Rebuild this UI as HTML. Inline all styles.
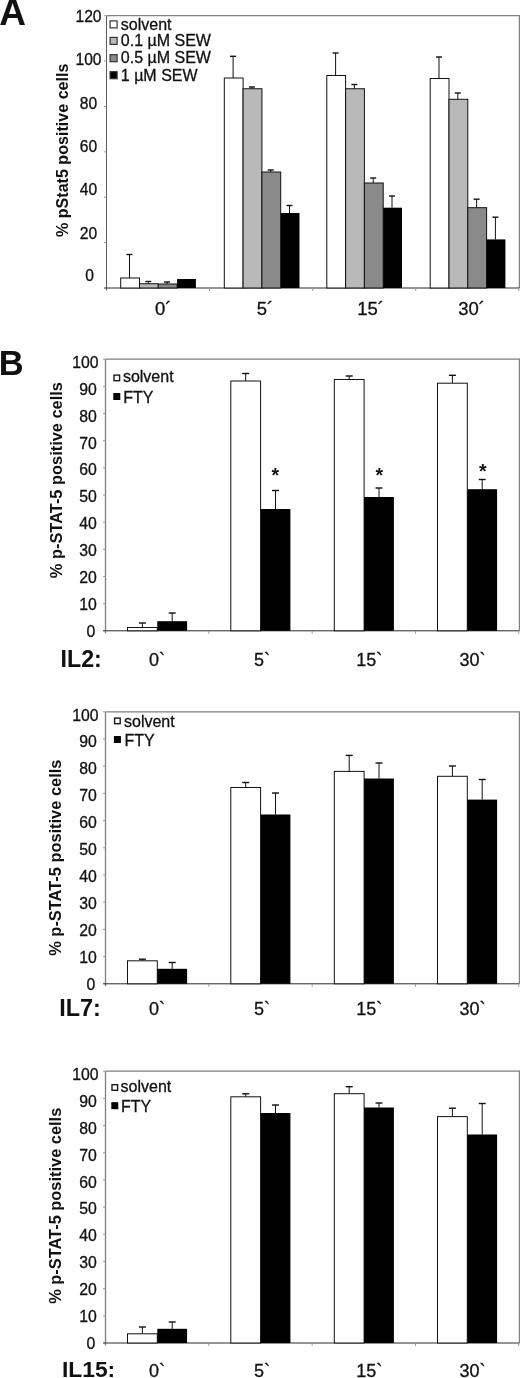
<!DOCTYPE html>
<html><head><meta charset="utf-8"><title>Figure</title>
<style>html,body{margin:0;padding:0;background:#fff}svg{display:block}text{font-family:"Liberation Sans", Arial, Helvetica, sans-serif}</style>
</head><body>
<svg width="520" height="1378" viewBox="0 0 520 1378" font-family='"Liberation Sans", Arial, Helvetica, sans-serif' fill="#111">
<polyline points="106.5,15.7 519.4,15.7 519.4,288" fill="none" stroke="#808080" stroke-width="1.2"/>
<line x1="106.5" y1="15.7" x2="106.5" y2="290.5" stroke="#5c5c5c" stroke-width="1"/>
<line x1="104.0" y1="288" x2="519.4" y2="288" stroke="#2a2a2a" stroke-width="1"/>
<line x1="209.575" y1="288" x2="209.575" y2="291.0" stroke="#9a9a9a" stroke-width="1"/>
<line x1="312.65" y1="288" x2="312.65" y2="291.0" stroke="#9a9a9a" stroke-width="1"/>
<line x1="415.72499999999997" y1="288" x2="415.72499999999997" y2="291.0" stroke="#9a9a9a" stroke-width="1"/>
<line x1="518.8" y1="288" x2="518.8" y2="291.0" stroke="#9a9a9a" stroke-width="1"/>
<line x1="104.0" y1="242.61666666666667" x2="106.5" y2="242.61666666666667" stroke="#9a9a9a" stroke-width="1"/>
<line x1="104.0" y1="197.23333333333335" x2="106.5" y2="197.23333333333335" stroke="#9a9a9a" stroke-width="1"/>
<line x1="104.0" y1="151.85" x2="106.5" y2="151.85" stroke="#9a9a9a" stroke-width="1"/>
<line x1="104.0" y1="106.46666666666667" x2="106.5" y2="106.46666666666667" stroke="#9a9a9a" stroke-width="1"/>
<line x1="104.0" y1="61.08333333333334" x2="106.5" y2="61.08333333333334" stroke="#9a9a9a" stroke-width="1"/>
<line x1="104.0" y1="15.699999999999989" x2="106.5" y2="15.699999999999989" stroke="#9a9a9a" stroke-width="1"/>
<line x1="129.5" y1="278" x2="129.5" y2="254.5" stroke="#111" stroke-width="1"/>
<line x1="126.5" y1="254.5" x2="132.5" y2="254.5" stroke="#111" stroke-width="1.4"/>
<rect x="120.70" y="278.00" width="18.80" height="10.00" fill="#ffffff" stroke="#111" stroke-width="1"/>
<line x1="148.3" y1="283.75" x2="148.3" y2="281.5" stroke="#111" stroke-width="1"/>
<line x1="145.3" y1="281.5" x2="151.3" y2="281.5" stroke="#111" stroke-width="1.4"/>
<rect x="139.50" y="283.75" width="18.80" height="4.25" fill="#b9b9b9" stroke="#111" stroke-width="1"/>
<line x1="167.10000000000002" y1="284" x2="167.10000000000002" y2="282" stroke="#111" stroke-width="1"/>
<line x1="164.10000000000002" y1="282" x2="170.10000000000002" y2="282" stroke="#111" stroke-width="1.4"/>
<rect x="158.30" y="284.00" width="18.80" height="4.00" fill="#8a8a8a" stroke="#111" stroke-width="1"/>
<rect x="177.10" y="279.00" width="18.80" height="9.00" fill="#000000" stroke="none" stroke-width="1"/>
<line x1="233.10000000000002" y1="78" x2="233.10000000000002" y2="56.3" stroke="#111" stroke-width="1"/>
<line x1="230.10000000000002" y1="56.3" x2="236.10000000000002" y2="56.3" stroke="#111" stroke-width="1.4"/>
<rect x="224.30" y="78.00" width="18.80" height="210.00" fill="#ffffff" stroke="#111" stroke-width="1"/>
<line x1="251.90000000000003" y1="88.75" x2="251.90000000000003" y2="87" stroke="#111" stroke-width="1"/>
<line x1="248.90000000000003" y1="87" x2="254.90000000000003" y2="87" stroke="#111" stroke-width="1.4"/>
<rect x="243.10" y="88.75" width="18.80" height="199.25" fill="#b9b9b9" stroke="#111" stroke-width="1"/>
<line x1="270.7" y1="172" x2="270.7" y2="170" stroke="#111" stroke-width="1"/>
<line x1="267.7" y1="170" x2="273.7" y2="170" stroke="#111" stroke-width="1.4"/>
<rect x="261.90" y="172.00" width="18.80" height="116.00" fill="#8a8a8a" stroke="#111" stroke-width="1"/>
<line x1="289.5" y1="213" x2="289.5" y2="205.5" stroke="#111" stroke-width="1"/>
<line x1="286.5" y1="205.5" x2="292.5" y2="205.5" stroke="#111" stroke-width="1.4"/>
<rect x="280.70" y="213.00" width="18.80" height="75.00" fill="#000000" stroke="none" stroke-width="1"/>
<line x1="335.59999999999997" y1="75.5" x2="335.59999999999997" y2="53" stroke="#111" stroke-width="1"/>
<line x1="332.59999999999997" y1="53" x2="338.59999999999997" y2="53" stroke="#111" stroke-width="1.4"/>
<rect x="326.80" y="75.50" width="18.80" height="212.50" fill="#ffffff" stroke="#111" stroke-width="1"/>
<line x1="354.4" y1="88.75" x2="354.4" y2="84.5" stroke="#111" stroke-width="1"/>
<line x1="351.4" y1="84.5" x2="357.4" y2="84.5" stroke="#111" stroke-width="1.4"/>
<rect x="345.60" y="88.75" width="18.80" height="199.25" fill="#b9b9b9" stroke="#111" stroke-width="1"/>
<line x1="373.2" y1="183" x2="373.2" y2="178" stroke="#111" stroke-width="1"/>
<line x1="370.2" y1="178" x2="376.2" y2="178" stroke="#111" stroke-width="1.4"/>
<rect x="364.40" y="183.00" width="18.80" height="105.00" fill="#8a8a8a" stroke="#111" stroke-width="1"/>
<line x1="392.0" y1="207.7" x2="392.0" y2="196" stroke="#111" stroke-width="1"/>
<line x1="389.0" y1="196" x2="395.0" y2="196" stroke="#111" stroke-width="1.4"/>
<rect x="383.20" y="207.70" width="18.80" height="80.30" fill="#000000" stroke="none" stroke-width="1"/>
<line x1="438.99999999999994" y1="78.5" x2="438.99999999999994" y2="57" stroke="#111" stroke-width="1"/>
<line x1="435.99999999999994" y1="57" x2="441.99999999999994" y2="57" stroke="#111" stroke-width="1.4"/>
<rect x="430.20" y="78.50" width="18.80" height="209.50" fill="#ffffff" stroke="#111" stroke-width="1"/>
<line x1="457.79999999999995" y1="99.3" x2="457.79999999999995" y2="93" stroke="#111" stroke-width="1"/>
<line x1="454.79999999999995" y1="93" x2="460.79999999999995" y2="93" stroke="#111" stroke-width="1.4"/>
<rect x="449.00" y="99.30" width="18.80" height="188.70" fill="#b9b9b9" stroke="#111" stroke-width="1"/>
<line x1="476.59999999999997" y1="207.7" x2="476.59999999999997" y2="199.2" stroke="#111" stroke-width="1"/>
<line x1="473.59999999999997" y1="199.2" x2="479.59999999999997" y2="199.2" stroke="#111" stroke-width="1.4"/>
<rect x="467.80" y="207.70" width="18.80" height="80.30" fill="#8a8a8a" stroke="#111" stroke-width="1"/>
<line x1="495.4" y1="239.4" x2="495.4" y2="217.2" stroke="#111" stroke-width="1"/>
<line x1="492.4" y1="217.2" x2="498.4" y2="217.2" stroke="#111" stroke-width="1.4"/>
<rect x="486.60" y="239.40" width="18.80" height="48.60" fill="#000000" stroke="none" stroke-width="1"/>
<text x="89.6" y="281.3" font-size="15.6" text-anchor="middle" font-weight="normal"  stroke="#111" stroke-width="0.3">0</text>
<text x="88.5" y="238.8" font-size="15.6" text-anchor="middle" font-weight="normal"  stroke="#111" stroke-width="0.3">20</text>
<text x="88.5" y="195.3" font-size="15.6" text-anchor="middle" font-weight="normal"  stroke="#111" stroke-width="0.3">40</text>
<text x="88.5" y="152.4" font-size="15.6" text-anchor="middle" font-weight="normal"  stroke="#111" stroke-width="0.3">60</text>
<text x="88.5" y="108.9" font-size="15.6" text-anchor="middle" font-weight="normal"  stroke="#111" stroke-width="0.3">80</text>
<text x="88.5" y="65.2" font-size="15.6" text-anchor="middle" font-weight="normal"  stroke="#111" stroke-width="0.3">100</text>
<text x="88.5" y="22.2" font-size="15.6" text-anchor="middle" font-weight="normal"  stroke="#111" stroke-width="0.3">120</text>
<text x="163.2" y="314.5" font-size="18.5" text-anchor="middle" font-weight="normal"  stroke="#111" stroke-width="0.3">0´</text>
<text x="265" y="314.5" font-size="18.5" text-anchor="middle" font-weight="normal"  stroke="#111" stroke-width="0.3">5´</text>
<text x="370.5" y="314.5" font-size="18.5" text-anchor="middle" font-weight="normal"  stroke="#111" stroke-width="0.3">15´</text>
<text x="471.5" y="314.5" font-size="18.5" text-anchor="middle" font-weight="normal"  stroke="#111" stroke-width="0.3">30´</text>
<rect x="110.10" y="20.90" width="7.00" height="7.00" fill="#fff" stroke="#333" stroke-width="1.2"/>
<text x="120.8" y="29.7" font-size="16" text-anchor="start" font-weight="normal"  stroke="#111" stroke-width="0.3">solvent</text>
<rect x="110.10" y="37.40" width="7.00" height="7.00" fill="#b9b9b9" stroke="#333" stroke-width="1.2"/>
<text x="120.8" y="45.9" font-size="16" text-anchor="start" font-weight="normal"  stroke="#111" stroke-width="0.3">0.1 µM SEW</text>
<rect x="110.10" y="54.70" width="7.00" height="7.00" fill="#8a8a8a" stroke="#333" stroke-width="1.2"/>
<text x="120.8" y="63.4" font-size="16" text-anchor="start" font-weight="normal"  stroke="#111" stroke-width="0.3">0.5 µM SEW</text>
<rect x="110.10" y="71.70" width="7.00" height="7.00" fill="#000" stroke="#333" stroke-width="1.2"/>
<text x="120.8" y="81.3" font-size="16" text-anchor="start" font-weight="normal"  stroke="#111" stroke-width="0.3">1 µM SEW</text>
<text transform="translate(68.3,150.3) rotate(-90)" font-size="16.1" font-weight="bold" text-anchor="middle">% pStat5 positive cells</text>
<text x="-0.8" y="24.8" font-size="37" text-anchor="start" font-weight="bold" >A</text>
<text x="-1.35" y="374.6" font-size="34.5" text-anchor="start" font-weight="bold" >B</text>
<polyline points="105.5,359.2 519.4,359.2 519.4,630.8" fill="none" stroke="#808080" stroke-width="1.2"/>
<line x1="105.5" y1="359.2" x2="105.5" y2="633.3" stroke="#808080" stroke-width="1.3"/>
<line x1="103.0" y1="630.8" x2="519.4" y2="630.8" stroke="#2a2a2a" stroke-width="1"/>
<line x1="208.825" y1="630.8" x2="208.825" y2="633.8" stroke="#9a9a9a" stroke-width="1"/>
<line x1="312.15" y1="630.8" x2="312.15" y2="633.8" stroke="#9a9a9a" stroke-width="1"/>
<line x1="415.47499999999997" y1="630.8" x2="415.47499999999997" y2="633.8" stroke="#9a9a9a" stroke-width="1"/>
<line x1="518.8" y1="630.8" x2="518.8" y2="633.8" stroke="#9a9a9a" stroke-width="1"/>
<line x1="103.0" y1="603.64" x2="105.5" y2="603.64" stroke="#9a9a9a" stroke-width="1"/>
<line x1="103.0" y1="576.48" x2="105.5" y2="576.48" stroke="#9a9a9a" stroke-width="1"/>
<line x1="103.0" y1="549.3199999999999" x2="105.5" y2="549.3199999999999" stroke="#9a9a9a" stroke-width="1"/>
<line x1="103.0" y1="522.16" x2="105.5" y2="522.16" stroke="#9a9a9a" stroke-width="1"/>
<line x1="103.0" y1="495.0" x2="105.5" y2="495.0" stroke="#9a9a9a" stroke-width="1"/>
<line x1="103.0" y1="467.84" x2="105.5" y2="467.84" stroke="#9a9a9a" stroke-width="1"/>
<line x1="103.0" y1="440.67999999999995" x2="105.5" y2="440.67999999999995" stroke="#9a9a9a" stroke-width="1"/>
<line x1="103.0" y1="413.52" x2="105.5" y2="413.52" stroke="#9a9a9a" stroke-width="1"/>
<line x1="103.0" y1="386.36" x2="105.5" y2="386.36" stroke="#9a9a9a" stroke-width="1"/>
<line x1="103.0" y1="359.2" x2="105.5" y2="359.2" stroke="#9a9a9a" stroke-width="1"/>
<line x1="142.4" y1="627.5" x2="142.4" y2="623" stroke="#111" stroke-width="1"/>
<line x1="138.9" y1="623" x2="145.9" y2="623" stroke="#111" stroke-width="1.4"/>
<rect x="127.50" y="627.50" width="29.80" height="3.30" fill="#fff" stroke="#111" stroke-width="1"/>
<line x1="172.20000000000002" y1="621.2" x2="172.20000000000002" y2="613" stroke="#111" stroke-width="1"/>
<line x1="168.70000000000002" y1="613" x2="175.70000000000002" y2="613" stroke="#111" stroke-width="1.4"/>
<rect x="157.30" y="621.20" width="29.80" height="9.60" fill="#000" stroke="none" stroke-width="1"/>
<line x1="245.70000000000002" y1="381" x2="245.70000000000002" y2="373.5" stroke="#111" stroke-width="1"/>
<line x1="242.20000000000002" y1="373.5" x2="249.20000000000002" y2="373.5" stroke="#111" stroke-width="1.4"/>
<rect x="230.80" y="381.00" width="29.80" height="249.80" fill="#fff" stroke="#111" stroke-width="1"/>
<line x1="275.5" y1="509" x2="275.5" y2="490.5" stroke="#111" stroke-width="1"/>
<line x1="272.0" y1="490.5" x2="279.0" y2="490.5" stroke="#111" stroke-width="1.4"/>
<rect x="260.60" y="509.00" width="29.80" height="121.80" fill="#000" stroke="none" stroke-width="1"/>
<line x1="349.2" y1="379.5" x2="349.2" y2="376" stroke="#111" stroke-width="1"/>
<line x1="345.7" y1="376" x2="352.7" y2="376" stroke="#111" stroke-width="1.4"/>
<rect x="334.30" y="379.50" width="29.80" height="251.30" fill="#fff" stroke="#111" stroke-width="1"/>
<line x1="379.0" y1="497" x2="379.0" y2="488" stroke="#111" stroke-width="1"/>
<line x1="375.5" y1="488" x2="382.5" y2="488" stroke="#111" stroke-width="1.4"/>
<rect x="364.10" y="497.00" width="29.80" height="133.80" fill="#000" stroke="none" stroke-width="1"/>
<line x1="452.4" y1="383.2" x2="452.4" y2="375.3" stroke="#111" stroke-width="1"/>
<line x1="448.9" y1="375.3" x2="455.9" y2="375.3" stroke="#111" stroke-width="1.4"/>
<rect x="437.50" y="383.20" width="29.80" height="247.60" fill="#fff" stroke="#111" stroke-width="1"/>
<line x1="482.2" y1="489.2" x2="482.2" y2="479.5" stroke="#111" stroke-width="1"/>
<line x1="478.7" y1="479.5" x2="485.7" y2="479.5" stroke="#111" stroke-width="1.4"/>
<rect x="467.30" y="489.20" width="29.80" height="141.60" fill="#000" stroke="none" stroke-width="1"/>
<text x="95.2" y="636.70" font-size="15.8" text-anchor="end" font-weight="normal"  stroke="#111" stroke-width="0.3">0</text>
<text x="96.8" y="609.82" font-size="15.8" text-anchor="end" font-weight="normal"  stroke="#111" stroke-width="0.3">10</text>
<text x="96.8" y="582.94" font-size="15.8" text-anchor="end" font-weight="normal"  stroke="#111" stroke-width="0.3">20</text>
<text x="96.8" y="556.06" font-size="15.8" text-anchor="end" font-weight="normal"  stroke="#111" stroke-width="0.3">30</text>
<text x="96.8" y="529.18" font-size="15.8" text-anchor="end" font-weight="normal"  stroke="#111" stroke-width="0.3">40</text>
<text x="96.8" y="502.30" font-size="15.8" text-anchor="end" font-weight="normal"  stroke="#111" stroke-width="0.3">50</text>
<text x="96.8" y="475.42" font-size="15.8" text-anchor="end" font-weight="normal"  stroke="#111" stroke-width="0.3">60</text>
<text x="96.8" y="448.54" font-size="15.8" text-anchor="end" font-weight="normal"  stroke="#111" stroke-width="0.3">70</text>
<text x="96.8" y="421.66" font-size="15.8" text-anchor="end" font-weight="normal"  stroke="#111" stroke-width="0.3">80</text>
<text x="96.8" y="394.78" font-size="15.8" text-anchor="end" font-weight="normal"  stroke="#111" stroke-width="0.3">90</text>
<text x="98.5" y="367.90" font-size="15.8" text-anchor="end" font-weight="normal"  stroke="#111" stroke-width="0.3">100</text>
<text x="157" y="666" font-size="18" text-anchor="middle" font-weight="normal"  stroke="#111" stroke-width="0.3">0`</text>
<text x="262" y="666" font-size="18" text-anchor="middle" font-weight="normal"  stroke="#111" stroke-width="0.3">5`</text>
<text x="369.3" y="666" font-size="18" text-anchor="middle" font-weight="normal"  stroke="#111" stroke-width="0.3">15`</text>
<text x="472.4" y="666" font-size="18" text-anchor="middle" font-weight="normal"  stroke="#111" stroke-width="0.3">30`</text>
<rect x="114.00" y="375.10" width="5.60" height="5.60" fill="#fff" stroke="#1a1a1a" stroke-width="1.4"/>
<text x="122.9" y="382.4" font-size="16" text-anchor="start" font-weight="normal"  stroke="#111" stroke-width="0.3">solvent</text>
<rect x="114.00" y="393.70" width="5.60" height="5.60" fill="#000" stroke="#000" stroke-width="1.4"/>
<text x="123.30000000000001" y="402.6" font-size="16" text-anchor="start" font-weight="normal"  stroke="#111" stroke-width="0.3">FTY</text>
<text x="275.2" y="482.4" font-size="19.5" text-anchor="middle" font-weight="bold" >*</text>
<text x="379.2" y="482.0" font-size="19.5" text-anchor="middle" font-weight="bold" >*</text>
<text x="482.7" y="477.8" font-size="19.5" text-anchor="middle" font-weight="bold" >*</text>
<text transform="translate(61.9,480.1) rotate(-90)" font-size="16.4" font-weight="bold" text-anchor="middle">% p-STAT-5 positive cells</text>
<text x="60.6" y="666.8" font-size="23.2" text-anchor="start" font-weight="bold" >IL2:</text>
<polyline points="105.5,711.8 519.4,711.8 519.4,983.8" fill="none" stroke="#808080" stroke-width="1.2"/>
<line x1="105.5" y1="711.8" x2="105.5" y2="986.3" stroke="#808080" stroke-width="1.3"/>
<line x1="103.0" y1="983.8" x2="519.4" y2="983.8" stroke="#2a2a2a" stroke-width="1"/>
<line x1="208.825" y1="983.8" x2="208.825" y2="986.8" stroke="#9a9a9a" stroke-width="1"/>
<line x1="312.15" y1="983.8" x2="312.15" y2="986.8" stroke="#9a9a9a" stroke-width="1"/>
<line x1="415.47499999999997" y1="983.8" x2="415.47499999999997" y2="986.8" stroke="#9a9a9a" stroke-width="1"/>
<line x1="518.8" y1="983.8" x2="518.8" y2="986.8" stroke="#9a9a9a" stroke-width="1"/>
<line x1="103.0" y1="956.5999999999999" x2="105.5" y2="956.5999999999999" stroke="#9a9a9a" stroke-width="1"/>
<line x1="103.0" y1="929.4" x2="105.5" y2="929.4" stroke="#9a9a9a" stroke-width="1"/>
<line x1="103.0" y1="902.1999999999999" x2="105.5" y2="902.1999999999999" stroke="#9a9a9a" stroke-width="1"/>
<line x1="103.0" y1="875.0" x2="105.5" y2="875.0" stroke="#9a9a9a" stroke-width="1"/>
<line x1="103.0" y1="847.8" x2="105.5" y2="847.8" stroke="#9a9a9a" stroke-width="1"/>
<line x1="103.0" y1="820.5999999999999" x2="105.5" y2="820.5999999999999" stroke="#9a9a9a" stroke-width="1"/>
<line x1="103.0" y1="793.4" x2="105.5" y2="793.4" stroke="#9a9a9a" stroke-width="1"/>
<line x1="103.0" y1="766.1999999999999" x2="105.5" y2="766.1999999999999" stroke="#9a9a9a" stroke-width="1"/>
<line x1="103.0" y1="739.0" x2="105.5" y2="739.0" stroke="#9a9a9a" stroke-width="1"/>
<line x1="103.0" y1="711.8" x2="105.5" y2="711.8" stroke="#9a9a9a" stroke-width="1"/>
<line x1="142.4" y1="960.8" x2="142.4" y2="959.2" stroke="#111" stroke-width="1"/>
<line x1="138.9" y1="959.2" x2="145.9" y2="959.2" stroke="#111" stroke-width="1.4"/>
<rect x="127.50" y="960.80" width="29.80" height="23.00" fill="#fff" stroke="#111" stroke-width="1"/>
<line x1="172.20000000000002" y1="968.8" x2="172.20000000000002" y2="962.5" stroke="#111" stroke-width="1"/>
<line x1="168.70000000000002" y1="962.5" x2="175.70000000000002" y2="962.5" stroke="#111" stroke-width="1.4"/>
<rect x="157.30" y="968.80" width="29.80" height="15.00" fill="#000" stroke="none" stroke-width="1"/>
<line x1="245.70000000000002" y1="787.5" x2="245.70000000000002" y2="782.5" stroke="#111" stroke-width="1"/>
<line x1="242.20000000000002" y1="782.5" x2="249.20000000000002" y2="782.5" stroke="#111" stroke-width="1.4"/>
<rect x="230.80" y="787.50" width="29.80" height="196.30" fill="#fff" stroke="#111" stroke-width="1"/>
<line x1="275.5" y1="814.5" x2="275.5" y2="793" stroke="#111" stroke-width="1"/>
<line x1="272.0" y1="793" x2="279.0" y2="793" stroke="#111" stroke-width="1.4"/>
<rect x="260.60" y="814.50" width="29.80" height="169.30" fill="#000" stroke="none" stroke-width="1"/>
<line x1="349.2" y1="771.4" x2="349.2" y2="755.4" stroke="#111" stroke-width="1"/>
<line x1="345.7" y1="755.4" x2="352.7" y2="755.4" stroke="#111" stroke-width="1.4"/>
<rect x="334.30" y="771.40" width="29.80" height="212.40" fill="#fff" stroke="#111" stroke-width="1"/>
<line x1="379.0" y1="778.5" x2="379.0" y2="763" stroke="#111" stroke-width="1"/>
<line x1="375.5" y1="763" x2="382.5" y2="763" stroke="#111" stroke-width="1.4"/>
<rect x="364.10" y="778.50" width="29.80" height="205.30" fill="#000" stroke="none" stroke-width="1"/>
<line x1="452.4" y1="776.3" x2="452.4" y2="766" stroke="#111" stroke-width="1"/>
<line x1="448.9" y1="766" x2="455.9" y2="766" stroke="#111" stroke-width="1.4"/>
<rect x="437.50" y="776.30" width="29.80" height="207.50" fill="#fff" stroke="#111" stroke-width="1"/>
<line x1="482.2" y1="799.6" x2="482.2" y2="779.5" stroke="#111" stroke-width="1"/>
<line x1="478.7" y1="779.5" x2="485.7" y2="779.5" stroke="#111" stroke-width="1.4"/>
<rect x="467.30" y="799.60" width="29.80" height="184.20" fill="#000" stroke="none" stroke-width="1"/>
<text x="95.2" y="989.70" font-size="15.8" text-anchor="end" font-weight="normal"  stroke="#111" stroke-width="0.3">0</text>
<text x="96.8" y="962.78" font-size="15.8" text-anchor="end" font-weight="normal"  stroke="#111" stroke-width="0.3">10</text>
<text x="96.8" y="935.86" font-size="15.8" text-anchor="end" font-weight="normal"  stroke="#111" stroke-width="0.3">20</text>
<text x="96.8" y="908.94" font-size="15.8" text-anchor="end" font-weight="normal"  stroke="#111" stroke-width="0.3">30</text>
<text x="96.8" y="882.02" font-size="15.8" text-anchor="end" font-weight="normal"  stroke="#111" stroke-width="0.3">40</text>
<text x="96.8" y="855.10" font-size="15.8" text-anchor="end" font-weight="normal"  stroke="#111" stroke-width="0.3">50</text>
<text x="96.8" y="828.18" font-size="15.8" text-anchor="end" font-weight="normal"  stroke="#111" stroke-width="0.3">60</text>
<text x="96.8" y="801.26" font-size="15.8" text-anchor="end" font-weight="normal"  stroke="#111" stroke-width="0.3">70</text>
<text x="96.8" y="774.34" font-size="15.8" text-anchor="end" font-weight="normal"  stroke="#111" stroke-width="0.3">80</text>
<text x="96.8" y="747.42" font-size="15.8" text-anchor="end" font-weight="normal"  stroke="#111" stroke-width="0.3">90</text>
<text x="98.5" y="720.50" font-size="15.8" text-anchor="end" font-weight="normal"  stroke="#111" stroke-width="0.3">100</text>
<text x="157" y="1015" font-size="18" text-anchor="middle" font-weight="normal"  stroke="#111" stroke-width="0.3">0`</text>
<text x="262" y="1015" font-size="18" text-anchor="middle" font-weight="normal"  stroke="#111" stroke-width="0.3">5`</text>
<text x="369.3" y="1015" font-size="18" text-anchor="middle" font-weight="normal"  stroke="#111" stroke-width="0.3">15`</text>
<text x="472.4" y="1015" font-size="18" text-anchor="middle" font-weight="normal"  stroke="#111" stroke-width="0.3">30`</text>
<rect x="114.60" y="718.10" width="5.60" height="5.60" fill="#fff" stroke="#1a1a1a" stroke-width="1.4"/>
<text x="124" y="727.2" font-size="16" text-anchor="start" font-weight="normal"  stroke="#111" stroke-width="0.3">solvent</text>
<rect x="114.60" y="736.70" width="5.60" height="5.60" fill="#000" stroke="#000" stroke-width="1.4"/>
<text x="124.4" y="745.5" font-size="16" text-anchor="start" font-weight="normal"  stroke="#111" stroke-width="0.3">FTY</text>
<text transform="translate(61,857.7) rotate(-90)" font-size="16.4" font-weight="bold" text-anchor="middle">% p-STAT-5 positive cells</text>
<text x="59.3" y="1015.5" font-size="23.4" text-anchor="start" font-weight="bold" >IL7:</text>
<polyline points="105.5,1071.2 519.4,1071.2 519.4,1343" fill="none" stroke="#808080" stroke-width="1.2"/>
<line x1="105.5" y1="1071.2" x2="105.5" y2="1345.5" stroke="#808080" stroke-width="1.3"/>
<line x1="103.0" y1="1343" x2="519.4" y2="1343" stroke="#2a2a2a" stroke-width="1"/>
<line x1="208.825" y1="1343" x2="208.825" y2="1346.0" stroke="#9a9a9a" stroke-width="1"/>
<line x1="312.15" y1="1343" x2="312.15" y2="1346.0" stroke="#9a9a9a" stroke-width="1"/>
<line x1="415.47499999999997" y1="1343" x2="415.47499999999997" y2="1346.0" stroke="#9a9a9a" stroke-width="1"/>
<line x1="518.8" y1="1343" x2="518.8" y2="1346.0" stroke="#9a9a9a" stroke-width="1"/>
<line x1="103.0" y1="1315.82" x2="105.5" y2="1315.82" stroke="#9a9a9a" stroke-width="1"/>
<line x1="103.0" y1="1288.64" x2="105.5" y2="1288.64" stroke="#9a9a9a" stroke-width="1"/>
<line x1="103.0" y1="1261.46" x2="105.5" y2="1261.46" stroke="#9a9a9a" stroke-width="1"/>
<line x1="103.0" y1="1234.28" x2="105.5" y2="1234.28" stroke="#9a9a9a" stroke-width="1"/>
<line x1="103.0" y1="1207.1" x2="105.5" y2="1207.1" stroke="#9a9a9a" stroke-width="1"/>
<line x1="103.0" y1="1179.92" x2="105.5" y2="1179.92" stroke="#9a9a9a" stroke-width="1"/>
<line x1="103.0" y1="1152.74" x2="105.5" y2="1152.74" stroke="#9a9a9a" stroke-width="1"/>
<line x1="103.0" y1="1125.56" x2="105.5" y2="1125.56" stroke="#9a9a9a" stroke-width="1"/>
<line x1="103.0" y1="1098.38" x2="105.5" y2="1098.38" stroke="#9a9a9a" stroke-width="1"/>
<line x1="103.0" y1="1071.2" x2="105.5" y2="1071.2" stroke="#9a9a9a" stroke-width="1"/>
<line x1="142.4" y1="1333.8" x2="142.4" y2="1327" stroke="#111" stroke-width="1"/>
<line x1="138.9" y1="1327" x2="145.9" y2="1327" stroke="#111" stroke-width="1.4"/>
<rect x="127.50" y="1333.80" width="29.80" height="9.20" fill="#fff" stroke="#111" stroke-width="1"/>
<line x1="172.20000000000002" y1="1328.8" x2="172.20000000000002" y2="1322" stroke="#111" stroke-width="1"/>
<line x1="168.70000000000002" y1="1322" x2="175.70000000000002" y2="1322" stroke="#111" stroke-width="1.4"/>
<rect x="157.30" y="1328.80" width="29.80" height="14.20" fill="#000" stroke="none" stroke-width="1"/>
<line x1="245.70000000000002" y1="1096.8" x2="245.70000000000002" y2="1093.8" stroke="#111" stroke-width="1"/>
<line x1="242.20000000000002" y1="1093.8" x2="249.20000000000002" y2="1093.8" stroke="#111" stroke-width="1.4"/>
<rect x="230.80" y="1096.80" width="29.80" height="246.20" fill="#fff" stroke="#111" stroke-width="1"/>
<line x1="275.5" y1="1113" x2="275.5" y2="1105" stroke="#111" stroke-width="1"/>
<line x1="272.0" y1="1105" x2="279.0" y2="1105" stroke="#111" stroke-width="1.4"/>
<rect x="260.60" y="1113.00" width="29.80" height="230.00" fill="#000" stroke="none" stroke-width="1"/>
<line x1="349.2" y1="1093.7" x2="349.2" y2="1086.7" stroke="#111" stroke-width="1"/>
<line x1="345.7" y1="1086.7" x2="352.7" y2="1086.7" stroke="#111" stroke-width="1.4"/>
<rect x="334.30" y="1093.70" width="29.80" height="249.30" fill="#fff" stroke="#111" stroke-width="1"/>
<line x1="379.0" y1="1107.5" x2="379.0" y2="1103" stroke="#111" stroke-width="1"/>
<line x1="375.5" y1="1103" x2="382.5" y2="1103" stroke="#111" stroke-width="1.4"/>
<rect x="364.10" y="1107.50" width="29.80" height="235.50" fill="#000" stroke="none" stroke-width="1"/>
<line x1="452.4" y1="1116.6" x2="452.4" y2="1108.2" stroke="#111" stroke-width="1"/>
<line x1="448.9" y1="1108.2" x2="455.9" y2="1108.2" stroke="#111" stroke-width="1.4"/>
<rect x="437.50" y="1116.60" width="29.80" height="226.40" fill="#fff" stroke="#111" stroke-width="1"/>
<line x1="482.2" y1="1134.5" x2="482.2" y2="1103.5" stroke="#111" stroke-width="1"/>
<line x1="478.7" y1="1103.5" x2="485.7" y2="1103.5" stroke="#111" stroke-width="1.4"/>
<rect x="467.30" y="1134.50" width="29.80" height="208.50" fill="#000" stroke="none" stroke-width="1"/>
<text x="95.2" y="1348.90" font-size="15.8" text-anchor="end" font-weight="normal"  stroke="#111" stroke-width="0.3">0</text>
<text x="96.8" y="1322.00" font-size="15.8" text-anchor="end" font-weight="normal"  stroke="#111" stroke-width="0.3">10</text>
<text x="96.8" y="1295.10" font-size="15.8" text-anchor="end" font-weight="normal"  stroke="#111" stroke-width="0.3">20</text>
<text x="96.8" y="1268.20" font-size="15.8" text-anchor="end" font-weight="normal"  stroke="#111" stroke-width="0.3">30</text>
<text x="96.8" y="1241.30" font-size="15.8" text-anchor="end" font-weight="normal"  stroke="#111" stroke-width="0.3">40</text>
<text x="96.8" y="1214.40" font-size="15.8" text-anchor="end" font-weight="normal"  stroke="#111" stroke-width="0.3">50</text>
<text x="96.8" y="1187.50" font-size="15.8" text-anchor="end" font-weight="normal"  stroke="#111" stroke-width="0.3">60</text>
<text x="96.8" y="1160.60" font-size="15.8" text-anchor="end" font-weight="normal"  stroke="#111" stroke-width="0.3">70</text>
<text x="96.8" y="1133.70" font-size="15.8" text-anchor="end" font-weight="normal"  stroke="#111" stroke-width="0.3">80</text>
<text x="96.8" y="1106.80" font-size="15.8" text-anchor="end" font-weight="normal"  stroke="#111" stroke-width="0.3">90</text>
<text x="98.5" y="1079.90" font-size="15.8" text-anchor="end" font-weight="normal"  stroke="#111" stroke-width="0.3">100</text>
<text x="157" y="1376.5" font-size="18" text-anchor="middle" font-weight="normal"  stroke="#111" stroke-width="0.3">0`</text>
<text x="262" y="1376.5" font-size="18" text-anchor="middle" font-weight="normal"  stroke="#111" stroke-width="0.3">5`</text>
<text x="369.3" y="1376.5" font-size="18" text-anchor="middle" font-weight="normal"  stroke="#111" stroke-width="0.3">15`</text>
<text x="472.4" y="1376.5" font-size="18" text-anchor="middle" font-weight="normal"  stroke="#111" stroke-width="0.3">30`</text>
<rect x="112.00" y="1084.70" width="5.60" height="5.60" fill="#fff" stroke="#1a1a1a" stroke-width="1.4"/>
<text x="120.6" y="1091.7" font-size="16" text-anchor="start" font-weight="normal"  stroke="#111" stroke-width="0.3">solvent</text>
<rect x="112.00" y="1102.90" width="5.60" height="5.60" fill="#000" stroke="#000" stroke-width="1.4"/>
<text x="121.0" y="1111.9" font-size="16" text-anchor="start" font-weight="normal"  stroke="#111" stroke-width="0.3">FTY</text>
<text transform="translate(61,1205.8) rotate(-90)" font-size="16.4" font-weight="bold" text-anchor="middle">% p-STAT-5 positive cells</text>
<text x="62" y="1376.7" font-size="22.8" text-anchor="start" font-weight="bold" >IL15:</text>
</svg>
</body></html>
